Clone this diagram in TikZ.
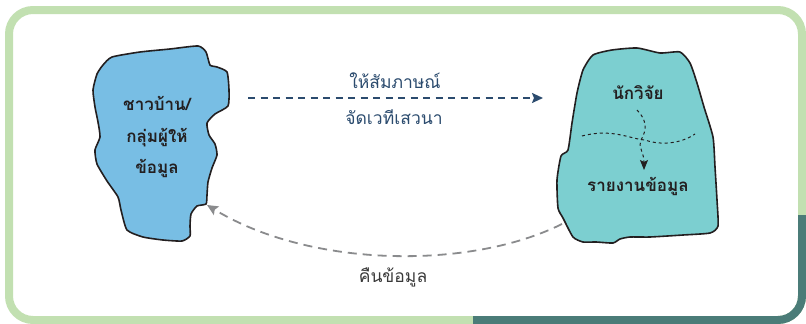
\documentclass[tikz,border=0pt]{standalone}
\usepackage{fontspec}
\newfontfamily\thaifont[Script=Thai]{Loma}
\usetikzlibrary{arrows.meta}
\definecolor{framegreen}{HTML}{C2E0B1}
\definecolor{frameteal}{HTML}{4B7C78}
\definecolor{blobblue}{HTML}{78BEE4}
\definecolor{blobteal}{HTML}{7CCFD0}
\definecolor{navy}{HTML}{2B4B6E}
\definecolor{arrowgray}{HTML}{8A8B8D}
\definecolor{ink}{HTML}{231F20}
\definecolor{labelgray}{HTML}{3A3A3A}
\tikzset{
  blobline/.style={draw=ink, line width=1.6pt, line join=round},
  blobtext/.style={font=\thaifont\bfseries\fontsize{17}{31.5}\selectfont, text=ink, align=center, inner sep=0pt},
  toplabel/.style={font=\thaifont\fontsize{17.5}{20}\selectfont, text=navy, inner sep=0pt},
  botlabel/.style={font=\thaifont\fontsize{17.5}{20}\selectfont, text=labelgray, inner sep=0pt},
  navyarrow/.style={draw=navy, line width=1.8pt, dash pattern=on 7pt off 5.5pt, -{Stealth[length=11pt,width=10pt,inset=2pt]}},
  grayarrow/.style={draw=arrowgray, line width=1.8pt, dash pattern=on 9pt off 6pt, -{Stealth[length=11pt,width=10pt,inset=2pt]}},
  thindash/.style={draw=ink, line width=1pt, dash pattern=on 3pt off 3pt},
}
\begin{document}
\begin{tikzpicture}[x=1pt,y=-1pt]
\useasboundingbox (0,0) rectangle (806,324);
\fill[white] (0,0) rectangle (806,324);
% frame
\draw[framegreen, line width=8pt, rounded corners=24pt] (9,10) rectangle (802,320);
\begin{scope}
  \clip (473,300) -- (785,300) -- (785,215) -- (820,215) -- (820,330) -- (473,330) -- cycle;
  \draw[frameteal, line width=8pt, rounded corners=24pt] (9,10) rectangle (802,320);
\end{scope}
% left blob
\filldraw[blobline, fill=blobblue] plot[smooth cycle, tension=0.35] coordinates {
  (103,65) (112,57) (140,52) (170,49) (198,46) (206,52) (210,65) (217,67) (227,72)
  (229,90) (228,106) (215,114) (207,123) (209,135) (215,144) (217,155) (212,168)
  (208,182) (207,195) (206,204) (197,206) (191,214) (190,226) (190,236) (182,241)
  (163,240) (143,237) (127,230) (121,210) (118,197) (107,181) (97,164) (95,150)
  (100,137) (98,122) (95,107) (93,90) (97,74)};
% right blob
\filldraw[blobline, fill=blobteal] plot[smooth cycle, tension=0.35] coordinates {
  (593,55) (612,50) (637,48) (660,53) (680,52) (690,63) (697,83) (704,107)
  (713,137) (715,167) (717,200) (718,226) (710,233) (683,235) (650,237) (630,237)
  (620,239) (613,243) (596,242) (583,242) (573,237) (563,218) (558,208) (557,180)
  (561,156) (568,150) (572,123) (577,93) (583,70)};
% texts
\node[blobtext] (villager) at (157,137) {ชาวบ้าน/\\กลุ่มผู้ให้\\ข้อมูล};
\node[blobtext] (researcher) at (638,93) {นักวิจัย};
\node[blobtext] (report) at (638,186) {รายงานข้อมูล};
\node[toplabel] (interview) at (395,81) {ให้สัมภาษณ์};
\node[toplabel] (forum) at (394,117) {จัดเวทีเสวนา};
\node[botlabel] (giveback) at (393,277) {คืนข้อมูล};
% connectors
\coordinate (a1) at (248,98);
\coordinate (a2) at (543,98);
\draw[navyarrow] (a1) -- (a2);
\coordinate (b1) at (562,224);
\coordinate (b2) at (207,205);
\draw[grayarrow] (b1) .. controls (470,270) and (310,268) .. (b2);
% inner dashed lines in right blob
\coordinate (h1) at (582,136);
\coordinate (h2) at (695,134);
\draw[thindash] (h1) .. controls (612,128) and (630,139) .. (645,140)
  .. controls (662,146) and (682,143) .. (h2);
\coordinate (v1) at (637,110);
\coordinate (v2) at (644,170);
\draw[thindash, -{Stealth[length=10pt,width=8pt,inset=2pt]}] (v1)
  .. controls (647,120) and (647,130) .. (641,140)
  .. controls (638,148) and (644,152) .. (v2);
\end{tikzpicture}
\end{document}
